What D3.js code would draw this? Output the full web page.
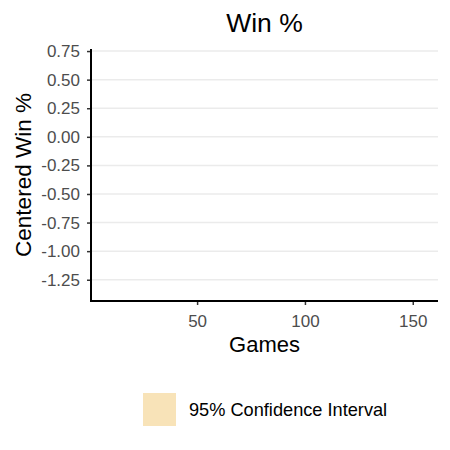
<!DOCTYPE html>
<html>
<head>
<meta charset="utf-8">
<script src="https://cdn.jsdelivr.net/npm/d3@7"></script>
<style>
  body { margin: 0; background: #fff; }
  text { font-family: "Liberation Sans", Arial, Helvetica, sans-serif; }
</style>
</head>
<body>
<script>
// chart data (the series in the source picture is empty, only the frame is drawn)
var games = [];
var win_pct = [];
var ci_low = [];
var ci_high = [];

var x_domain = [0.8, 161.7];
var y_domain = [-1.436, 0.768];
var x_ticks = [50, 100, 150];
var y_ticks = [0.75, 0.5, 0.25, 0, -0.25, -0.5, -0.75, -1, -1.25];

var title = "Win %";
var x_title = "Games";
var y_title = "Centered Win %";
var legend_labels = ["95% Confidence Interval"];
var legend_colors = ["#f8e3b8"];

var width = 450;
var height = 450;
var p_left = 91, p_right = 438, p_top = 49, p_bottom = 301;

var svg = d3.select('body').append('svg')
      .attr('width', width)
      .attr('height', height);

var x = d3.scaleLinear().domain(x_domain).range([p_left, p_right]);
var y = d3.scaleLinear().domain(y_domain).range([p_bottom, p_top]);

// horizontal grid
svg.append('g')
    .selectAll('line')
    .data(y_ticks)
    .enter()
    .append('line')
    .attr('x1', p_left)
    .attr('x2', p_right)
    .attr('y1', function (d) { return y(d); })
    .attr('y2', function (d) { return y(d); })
    .attr('stroke', '#ebebeb')
    .attr('stroke-width', 1.5);

// ribbon + line (empty series)
var rows = games.map(function (g, i) {
  return { g: g, v: win_pct[i], lo: ci_low[i], hi: ci_high[i] };
});
svg.append('path')
    .datum(rows)
    .attr('fill', legend_colors[0])
    .attr('d', d3.area()
        .x(function (d) { return x(d.g); })
        .y0(function (d) { return y(d.lo); })
        .y1(function (d) { return y(d.hi); }));
svg.append('path')
    .datum(rows)
    .attr('fill', 'none')
    .attr('stroke', '#000')
    .attr('d', d3.line()
        .x(function (d) { return x(d.g); })
        .y(function (d) { return y(d.v); }));

// axes
var x_axis = svg.append('g')
    .attr('transform', 'translate(0,' + p_bottom + ')')
    .call(d3.axisBottom(x).tickValues(x_ticks).tickSize(4).tickPadding(10).tickSizeOuter(0));
var y_axis = svg.append('g')
    .attr('transform', 'translate(' + p_left + ',0)')
    .call(d3.axisLeft(y).tickValues(y_ticks).tickSize(4).tickPadding(7).tickSizeOuter(0));

[x_axis, y_axis].forEach(function (a) {
  a.select('.domain').remove();
  a.selectAll('.tick line').attr('stroke', '#333').attr('stroke-width', 1.5);
  a.selectAll('.tick text')
      .attr('fill', '#4d4d4d')
      .style('font-size', '17px')
      .style('font-family', '"Liberation Sans", Arial, sans-serif');
});
y_axis.selectAll('.tick text').text(function (d) { return d3.format('.2f')(d).replace('−', '-'); });

svg.append('path')
    .attr('d', 'M' + p_left + ',' + p_top + 'V' + p_bottom + 'H' + p_right)
    .attr('fill', 'none')
    .attr('stroke', '#000')
    .attr('stroke-width', 2);

// titles
svg.append('text')
    .attr('x', (p_left + p_right) / 2)
    .attr('y', 32)
    .attr('text-anchor', 'middle')
    .style('font-size', '26.5px')
    .text(title);

svg.append('text')
    .attr('x', (p_left + p_right) / 2)
    .attr('y', 352)
    .attr('text-anchor', 'middle')
    .style('font-size', '22px')
    .text(x_title);

svg.append('text')
    .attr('transform', 'translate(31,' + (p_top + p_bottom) / 2 + ') rotate(-90)')
    .attr('text-anchor', 'middle')
    .style('font-size', '22.5px')
    .text(y_title);

// legend
var lg = svg.append('g').selectAll('g')
    .data(legend_labels)
    .enter()
    .append('g');
lg.append('rect')
    .attr('x', 143)
    .attr('y', 393)
    .attr('width', 33)
    .attr('height', 33)
    .attr('fill', function (d, i) { return legend_colors[i]; });
lg.append('text')
    .attr('x', 189)
    .attr('y', 416)
    .style('font-size', '18.2px')
    .text(function (d) { return d; });
</script>
</body>
</html>
